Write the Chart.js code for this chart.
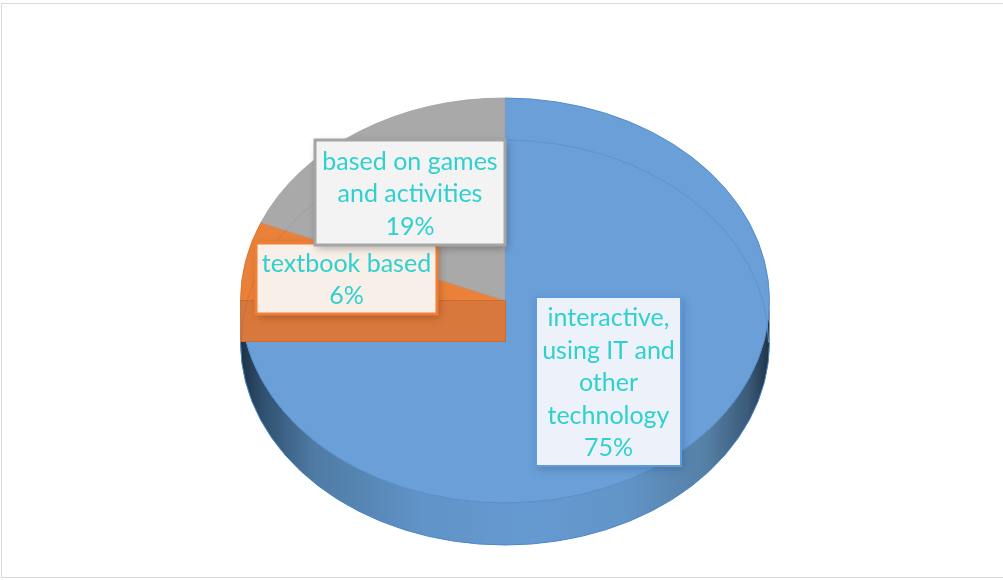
<!DOCTYPE html>
<html>
<head>
<meta charset="utf-8">
<title>Pie 3D</title>
<style>
  html, body { margin: 0; padding: 0; background: #fff; }
  canvas { display: block; }
</style>
<script src="https://cdn.jsdelivr.net/npm/chart.js@4"></script>
</head>
<body>
<canvas id="pie3d" width="1003" height="580"></canvas>
<script>
// Donnees
const categories = ['interactive, using IT and other technology', 'textbook based', 'based on games and activities'];
const values = [75, 6.3, 18.7];
const labelLines = [
    ['interactive,', 'using IT and', 'other', 'technology'],
    ['textbook based'],
    ['based on games', 'and activities']
];
const sliceColors = ['#6a9fd7', '#e9813a', '#a9a9a9'];
const borderColors = ['#4a88c8', '#d9722e', '#a3a3a3'];

// Boites des etiquettes, dans l'ordre de dessin
const labelBoxes = [
    { slice: 0, x: 536, y: 297, w: 145, h: 169, fill: '#edf2fa', stroke: '#5f9bd8', line: 2, shadow: 'rgba(30,70,120,0.35)' },
    { slice: 1, x: 256, y: 243, w: 181, h: 71, fill: '#f8efe9', stroke: '#ee7f35', line: 3, shadow: 'rgba(90,40,10,0.4)' },
    { slice: 2, x: 315, y: 140, w: 190, h: 105, fill: '#f3f3f3', stroke: '#a5a5a5', line: 3, shadow: 'rgba(0,0,0,0.3)' }
];

const TOP_Y = 300.5;      // centre de l'ellipse du dessus
const RY = 202.5;
const DEPTH = 42;
const TEXT_COLOR = '#2fd0cf';
const FONT = '25px Lato, "Open Sans", sans-serif';
const LINE_HEIGHT = 32.5;

// Plugin pour la perspective : ecrase le camembert et ajoute la paroi
const pie3dPlugin = {
    id: 'pie3d',
    beforeDraw(chart) {
        const ctx = chart.ctx;
        ctx.save();
        ctx.fillStyle = '#ffffff';
        ctx.fillRect(0, 0, chart.width, chart.height);
        ctx.strokeStyle = '#d9d9d9';
        ctx.lineWidth = 1;
        ctx.strokeRect(1.5, 3.5, chart.width - 1, chart.height - 6);
        ctx.restore();
    },
    beforeDatasetsDraw(chart) {
        const ctx = chart.ctx;
        const arc = chart.getDatasetMeta(0).data[0];
        const cx = arc.x, cy = arc.y, r = arc.outerRadius;

        // Paroi avant
        const wall = ctx.createLinearGradient(cx - r, 0, cx + r, 0);
        wall.addColorStop(0, '#1d3145');
        wall.addColorStop(0.04, '#2f4f6e');
        wall.addColorStop(0.14, '#4f7ba4');
        wall.addColorStop(0.35, '#6194c8');
        wall.addColorStop(0.55, '#659ad1');
        wall.addColorStop(0.72, '#6295c8');
        wall.addColorStop(0.88, '#5580a6');
        wall.addColorStop(0.96, '#3b5a78');
        wall.addColorStop(1, '#1f3347');
        ctx.save();
        ctx.beginPath();
        ctx.ellipse(cx, TOP_Y, r, RY, 0, 0, Math.PI);
        ctx.lineTo(cx - r, TOP_Y + DEPTH);
        ctx.ellipse(cx, TOP_Y + DEPTH, r, RY, 0, Math.PI, 0, true);
        ctx.closePath();
        ctx.fillStyle = wall;
        ctx.fill();
        ctx.beginPath();
        ctx.ellipse(cx, TOP_Y + DEPTH, r, RY, 0, Math.PI, 0, true);
        ctx.strokeStyle = '#4a88c8';
        ctx.lineWidth = 1;
        ctx.stroke();
        ctx.restore();

        // Ecrasement vertical pendant le dessin des parts
        ctx.save();
        ctx.translate(0, TOP_Y);
        ctx.scale(1, RY / r);
        ctx.translate(0, -cy);
    },
    afterDatasetsDraw(chart) {
        const ctx = chart.ctx;
        ctx.restore();
        const arc = chart.getDatasetMeta(0).data[0];
        const cx = arc.x, r = arc.outerRadius;

        // Face interne de la part orange
        ctx.save();
        ctx.fillStyle = '#d9783c';
        ctx.strokeStyle = '#cf6c2c';
        ctx.lineWidth = 1;
        ctx.fillRect(cx - r, TOP_Y, r, DEPTH - 1);
        ctx.strokeRect(cx - r + 0.5, TOP_Y, r, DEPTH - 1);
        ctx.restore();

        // Bord arriere vu par transparence
        ctx.save();
        ctx.beginPath();
        ctx.ellipse(cx, TOP_Y + DEPTH, r - 1, RY, 0, Math.PI, Math.PI * 1.5);
        ctx.strokeStyle = 'rgba(0,0,0,0.07)';
        ctx.lineWidth = 1;
        ctx.stroke();
        ctx.beginPath();
        ctx.ellipse(cx, TOP_Y + DEPTH, r - 1, RY, 0, Math.PI * 1.5, Math.PI * 2);
        ctx.strokeStyle = '#5d94cf';
        ctx.stroke();
        ctx.restore();

        // Etiquettes
        const total = values.reduce((a, b) => a + b, 0);
        labelBoxes.forEach(function (box) {
            ctx.save();
            ctx.shadowColor = box.shadow;
            ctx.shadowBlur = 8;
            ctx.shadowOffsetX = 2;
            ctx.shadowOffsetY = 3;
            ctx.fillStyle = box.fill;
            ctx.fillRect(box.x, box.y, box.w, box.h);
            ctx.restore();

            ctx.save();
            ctx.strokeStyle = box.stroke;
            ctx.lineWidth = box.line;
            ctx.strokeRect(box.x, box.y, box.w, box.h);

            const lines = labelLines[box.slice].concat(Math.round(values[box.slice] / total * 100) + '%');
            const startY = box.y + box.h / 2 - (lines.length - 1) * LINE_HEIGHT / 2 + 1.5;
            ctx.fillStyle = TEXT_COLOR;
            ctx.font = FONT;
            ctx.textAlign = 'center';
            ctx.textBaseline = 'middle';
            lines.forEach(function (line, i) {
                ctx.fillText(line, box.x + box.w / 2, startY + i * LINE_HEIGHT);
            });
            ctx.restore();
        });
    }
};

document.addEventListener('DOMContentLoaded', function () {
    new Chart(document.getElementById('pie3d'), {
        type: 'pie',
        data: {
            labels: categories,
            datasets: [{
                data: values,
                backgroundColor: sliceColors,
                borderColor: borderColors,
                borderWidth: 1,
                clip: false
            }]
        },
        options: {
            responsive: false,
            animation: false,
            layout: { padding: { left: 240, right: 233, top: 25, bottom: 25 } },
            plugins: {
                legend: { display: false },
                tooltip: { enabled: false }
            }
        },
        plugins: [pie3dPlugin]
    });
});
</script>
</body>
</html>
